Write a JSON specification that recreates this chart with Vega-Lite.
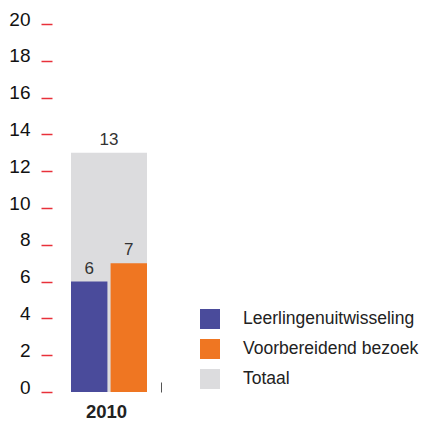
{
  "$schema": "https://vega.github.io/schema/vega-lite/v6.json",
  "autosize": "none",
  "width": 114,
  "height": 368,
  "padding": {"left": 52, "top": 24, "right": 257, "bottom": 31},
  "background": "white",
  "config": {"view": {"stroke": null}, "font": "Liberation Sans"},
  "data": {"values": [
    {"jaar": "2010", "reeks": "Totaal", "waarde": 13},
    {"jaar": "2010", "reeks": "Leerlingenuitwisseling", "waarde": 6},
    {"jaar": "2010", "reeks": "Voorbereidend bezoek", "waarde": 7}
  ]},
  "encoding": {
    "x": {"field": "jaar", "type": "nominal", "title": null,
      "scale": {"paddingInner": 0, "paddingOuter": 0.25},
      "axis": {"domain": false, "labelAngle": 0, "labelFontSize": 18.5, "labelFontWeight": "bold", "labelColor": "#222",
        "tickColor": "#555", "tickSize": -10, "tickWidth": 1, "tickOffset": 52, "labelOffset": -55, "labelPadding": 20}},
    "y": {"field": "waarde", "type": "quantitative", "title": null,
      "scale": {"domain": [0, 20]},
      "axis": {"values": [0,2,4,6,8,10,12,14,16,18,20], "grid": false, "domain": false,
        "tickColor": "#e8303a", "tickSize": 11, "tickWidth": 1.5, "labelPadding": 11,
        "labelFontSize": 19, "labelColor": "#111", "labelOffset": -5}}
  },
  "layer": [
    {
      "transform": [{"filter": "datum.reeks === 'Totaal'"}],
      "layer": [
        {"mark": {"type": "bar"},
         "encoding": {"color": {"field": "reeks", "type": "nominal",
           "scale": {"domain": ["Leerlingenuitwisseling", "Voorbereidend bezoek", "Totaal"], "range": ["#4a4b9b", "#ef7622", "#dcdcde"]},
           "legend": {"orient": "none", "legendX": 148, "legendY": 285, "title": null, "symbolType": "square", "symbolSize": 400,
             "symbolStrokeWidth": 0, "labelFontSize": 17.5, "labelColor": "#222", "labelOffset": 23, "rowPadding": 10, "labelLimit": 300}}}},
        {"mark": {"type": "text", "baseline": "bottom", "dy": -4, "fontSize": 17, "color": "#333"},
         "encoding": {"text": {"field": "waarde", "type": "quantitative"}}}
      ]
    },
    {
      "transform": [{"filter": "datum.reeks !== 'Totaal'"}],
      "encoding": {"xOffset": {"field": "reeks", "type": "nominal", "scale": {"paddingInner": 0.08, "paddingOuter": 0}}},
      "layer": [
        {"mark": {"type": "bar"},
         "encoding": {"color": {"field": "reeks", "type": "nominal"}}},
        {"mark": {"type": "text", "baseline": "bottom", "dy": -4, "fontSize": 17, "color": "#333"},
         "encoding": {"text": {"field": "waarde", "type": "quantitative"}}}
      ]
    }
  ]
}
